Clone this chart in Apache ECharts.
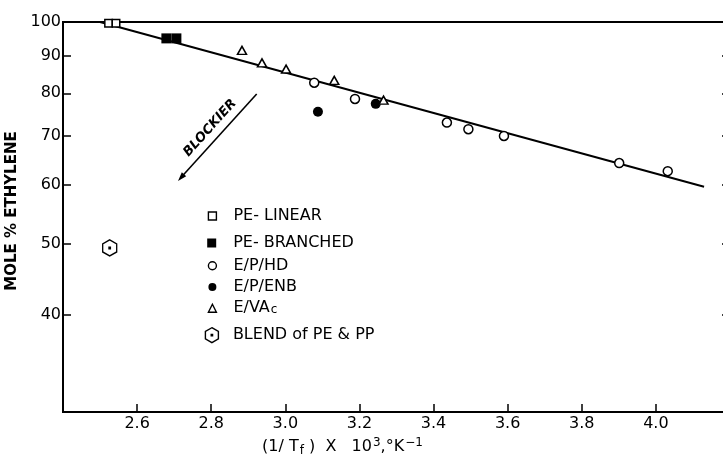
<!DOCTYPE html>
<html>
<head>
<meta charset="utf-8">
<script src="https://cdn.jsdelivr.net/npm/echarts@6/dist/echarts.min.js"></script>
<style>
  html, body { margin: 0; padding: 0; background: #fff; }
  #chart { width: 723px; height: 457px; }
</style>
</head>
<body>
<div id="chart"></div>
<script>
// values: [1/Tf x 10^3, mole % ethylene]
const peLinear = [[2.523, 99.6], [2.543, 99.6]];
const peBranched = [[2.679, 95.0], [2.706, 95.0]];
const epHd = [[3.078, 82.7], [3.188, 78.6], [3.436, 73.0], [3.494, 71.5], [3.590, 70.0], [3.901, 64.3], [4.032, 62.7]];
const epEnb = [[3.088, 75.5], [3.244, 77.4]];
const eVac = [[2.883, 91.5], [2.937, 88.0], [3.002, 86.3], [3.132, 83.3], [3.265, 78.3]];
const blend = [[2.526, 49.3]];
const fitLine = [[2.50, 100], [4.13, 59.7]];

const xTicks = [2.6, 2.8, 3.0, 3.2, 3.4, 3.6, 3.8, 4.0];
const yTicks = [40, 50, 60, 70, 80, 90, 100];

const font = 'DejaVu Sans';
const hexagon = 'path://M0,-10L8.66,-5L8.66,5L0,10L-8.66,5L-8.66,-5Z M-0.9,-0.9L0.9,-0.9L0.9,0.9L-0.9,0.9Z';
const open = { color: '#fff', borderColor: '#000', borderWidth: 1.5, opacity: 1 };
const solid = { color: '#000', opacity: 1 };

const chart = echarts.init(document.getElementById('chart'));

const legendBase = {
  orient: 'vertical',
  padding: 0,
  selectedMode: false,
  itemHeight: 8,
  itemWidth: 8,
  left: 207.7,
  itemStyle: { borderWidth: 1.4, opacity: 1 },
  textStyle: {
    fontFamily: font, fontSize: 16, color: '#000', lineHeight: 16, padding: [0, 0, 0, 12],
    rich: {
      n: { fontFamily: font, fontSize: 16, color: '#000' },
      s: { fontFamily: font, fontSize: 12, color: '#000', verticalAlign: 'bottom', padding: [8, 0, 0, 1] }
    }
  },
  formatter: function (name) {
    return name === 'E/VAc' ? '{n|E/VA}{s|c}' : name;
  }
};

chart.setOption({
  animation: false,
  backgroundColor: '#fff',
  grid: {
    left: 63, top: 22, right: -7, bottom: 45,
    outerBoundsMode: 'none', containLabel: false,
    show: true, borderColor: '#000', borderWidth: 2
  },
  legend: [
    Object.assign({}, legendBase, { data: ['PE- LINEAR'], top: 208 }),
    Object.assign({}, legendBase, { data: ['PE- BRANCHED'], top: 235, itemWidth: 9, itemHeight: 9, left: 207.2 }),
    Object.assign({}, legendBase, { data: ['E/P/HD', 'E/P/ENB', 'E/VAc'], top: 257.7, itemGap: 5.3 }),
    Object.assign({}, legendBase, {
      data: ['BLEND of PE & PP'], top: 327, itemWidth: 14, itemHeight: 15, left: 204.7,
      textStyle: Object.assign({}, legendBase.textStyle, { padding: [0, 0, 0, 9] })
    })
  ],
  xAxis: {
    type: 'value',
    min: 2.4,
    max: 4.2,
    interval: 0.2,
    splitLine: { show: false },
    axisLine: { lineStyle: { color: '#000', width: 2 } },
    axisTick: { inside: true, length: 8, lineStyle: { color: '#000', width: 1.5 }, customValues: xTicks },
    axisLabel: {
      customValues: xTicks, margin: 4, color: '#000', fontFamily: font, fontSize: 16,
      formatter: function (v) { return v.toFixed(1); }
    }
  },
  yAxis: [
    {
      type: 'log',
      min: 29.5,
      max: 100,
      name: 'MOLE % ETHYLENE',
      nameLocation: 'middle',
      nameRotate: 90,
      nameGap: 42,
      nameTextStyle: { fontFamily: font, fontSize: 15, fontWeight: 'bold', color: '#000', padding: [0, 0, 0, 12] },
      splitLine: { show: false },
      axisLine: { show: true, lineStyle: { color: '#000', width: 2 } },
      axisTick: { inside: true, length: 8, lineStyle: { color: '#000', width: 1.5 }, customValues: yTicks },
      axisLabel: { customValues: yTicks, margin: 2, color: '#000', fontFamily: font, fontSize: 16 }
    },
    {
      type: 'log',
      min: 29.5,
      max: 100,
      position: 'right',
      splitLine: { show: false },
      axisLine: { show: true, lineStyle: { color: '#000', width: 2 } },
      axisTick: { inside: true, length: 8, lineStyle: { color: '#000', width: 1.5 }, customValues: yTicks },
      axisLabel: { show: false }
    }
  ],
  series: [
    { name: 'fit', type: 'line', data: fitLine, symbol: 'none', lineStyle: { color: '#000', width: 2 }, z: 1 },
    { name: 'PE- LINEAR', type: 'scatter', data: peLinear, symbol: 'rect', symbolSize: 7.5, itemStyle: open, z: 3 },
    { name: 'PE- BRANCHED', type: 'scatter', data: peBranched, symbol: 'rect', symbolSize: [10, 10], itemStyle: solid, z: 3 },
    { name: 'E/P/HD', type: 'scatter', data: epHd, symbol: 'circle', symbolSize: 9, itemStyle: open, z: 3 },
    { name: 'E/P/ENB', type: 'scatter', data: epEnb, symbol: 'circle', symbolSize: 10, itemStyle: solid, z: 3 },
    { name: 'E/VAc', type: 'scatter', data: eVac, symbol: 'triangle', symbolSize: [9, 8], itemStyle: open, z: 3 },
    { name: 'BLEND of PE & PP', type: 'scatter', data: blend, symbol: hexagon, symbolSize: [14, 16], itemStyle: { color: '#fff', borderColor: '#000', borderWidth: 1.4, opacity: 1 }, z: 3 }
  ],
  graphic: [
    { type: 'line', shape: { x1: 256.7, y1: 94, x2: 181, y2: 177.5 }, style: { stroke: '#000', lineWidth: 1.6 } },
    { type: 'polygon', shape: { points: [[178, 181], [186.2, 176.3], [181.8, 172.3]] }, style: { fill: '#000' } },
    {
      type: 'text', x: 210, y: 128, rotation: 48 * Math.PI / 180,
      style: { text: 'BLOCKIER', fontFamily: font, fontSize: 13, fontStyle: 'italic', fontWeight: 'bold', fill: '#000', align: 'center', verticalAlign: 'middle' }
    },
    {
      type: 'text', left: 262, top: 437,
      style: {
        text: '{n|(1/ T}{s|f}{n| )  X   10}{p|3}{n|,°K}{p|−1}',
        rich: {
          n: { fontFamily: font, fontSize: 16, fill: '#000' },
          s: { fontFamily: font, fontSize: 12, fill: '#000', padding: [7, 0, 0, 1] },
          p: { fontFamily: font, fontSize: 12, fill: '#000', padding: [0, 0, 8, 1] }
        }
      }
    }
  ]
});
</script>
</body>
</html>
